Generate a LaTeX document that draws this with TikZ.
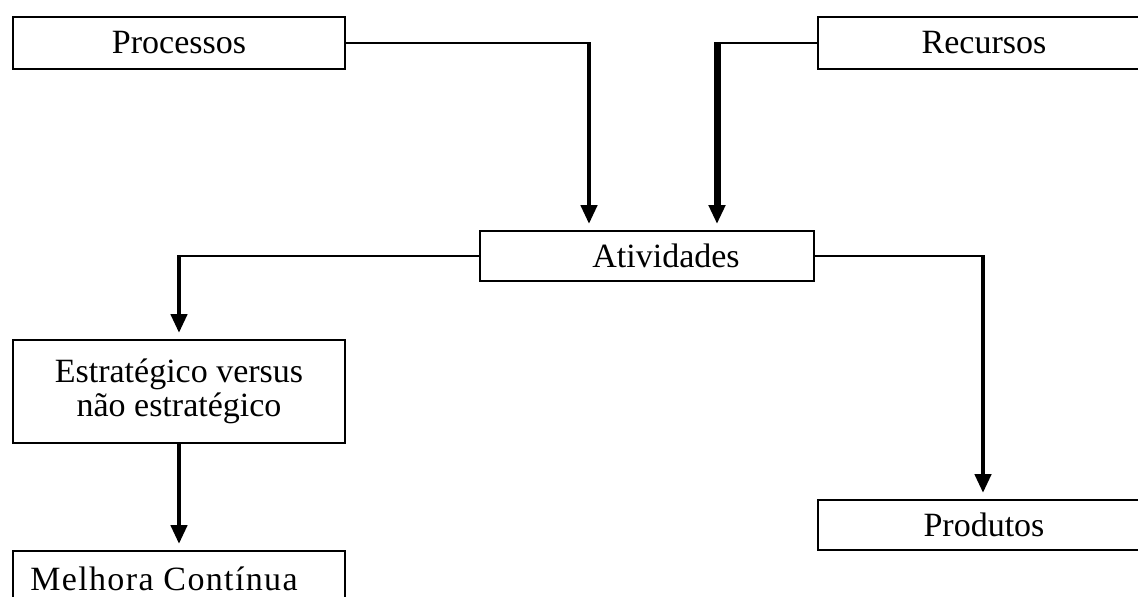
\documentclass[tikz,border=0pt]{standalone}
\usepackage{fontspec}
\setmainfont{Liberation Serif}
\usetikzlibrary{arrows.meta}
\begin{document}
\begin{tikzpicture}[x=1pt,y=-1pt,
  box/.style={draw, line width=2pt, minimum height=52pt, inner sep=0pt,
    font=\fontsize{34}{34}\selectfont, align=center},
  link/.style={line width=1.8pt},
  flow/.style={line width=4.5pt, -{Triangle[width=16pt,length=19pt]}, shorten >=6pt},
  heavy/.style={line width=7pt, -{Triangle[width=16pt,length=19pt]}, shorten >=6pt}]
\useasboundingbox (0,0) rectangle (1138,597);
\clip (0,0) rectangle (1138,597);

% boxes
\node[box, minimum width=332pt] (proc) at (179,43) {Processos};
\node[box, minimum width=332pt] (recu) at (984,43) {Recursos};
\node[box, minimum width=334pt, minimum height=50pt] (ativ) at (647,256) {\hspace*{38pt}Atividades};
\node[box, minimum width=332pt, minimum height=103pt] (estr) at (179,391.5) {Estratégico versus\\não estratégico};
\node[box, minimum width=332pt, anchor=north, inner ysep=14pt, text height=25pt, text depth=8pt] (melh) at (179,550)
  {\addfontfeature{LetterSpace=4}Melhora Contínua\hspace*{30pt}};
\node[box, minimum width=332pt, minimum height=50pt] (prod) at (984,525) {Produtos};

% bends of the connectors
\coordinate (pb) at (589,43);
\coordinate (rb) at (717,43);
\coordinate (lb) at (179,256);
\coordinate (db) at (983,256);

% inputs into the activities
\draw[link] (proc.east) -- ([xshift=2.2pt]pb);
\draw[flow] ([yshift=0.9pt]pb) -- (pb |- ativ.north);
\draw[link] (recu.west) -- ([xshift=-3.5pt]rb);
\draw[heavy] ([yshift=0.9pt]rb) -- (rb |- ativ.north);

% outputs of the activities
\draw[link] (ativ.west) -- ([xshift=-2.2pt]lb);
\draw[flow] ([yshift=0.9pt]lb) -- (lb |- estr.north);
\draw[flow] (estr.south -| lb) -- (lb |- melh.north);
\draw[link] (ativ.east) -- ([xshift=2.2pt]db);
\draw[flow] ([yshift=0.9pt]db) -- (db |- prod.north);
\end{tikzpicture}
\end{document}
